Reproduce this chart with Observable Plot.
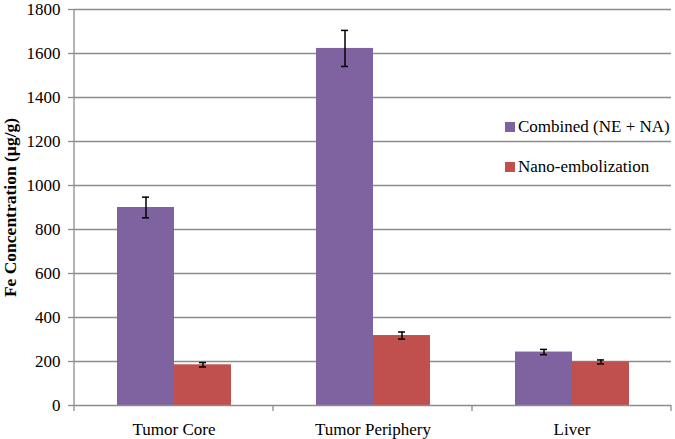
<!DOCTYPE html>
<html><head><meta charset="utf-8">
<script src="https://cdn.jsdelivr.net/npm/d3@7"></script>
<script src="https://cdn.jsdelivr.net/npm/@observablehq/plot@0.6"></script>
<style>
body{margin:0;background:#fff;}
#wrap{position:relative;width:675px;height:439px;overflow:hidden;}
#wrap svg, #wrap svg text{font-family:"Liberation Serif",serif !important;}
#wrap svg g[aria-label="y-axis label"] text{font-weight:bold;font-size:17.5px;}
.legend{position:absolute;left:505px;font-family:"Liberation Serif",serif;font-size:17px;color:#000;display:flex;align-items:center;white-space:nowrap;}
.legend span.sw{display:inline-block;width:10px;height:10px;margin-right:3px;}
</style></head><body><div id="wrap"></div>
<script>
const categories = ["Tumor Core", "Tumor Periphery", "Liver"];
const series = ["Combined (NE + NA)", "Nano-embolization"];
const combined = [900, 1623, 243];
const combinedErr = [47, 82, 12];
const nano = [185, 318, 198];
const nanoErr = [10, 16, 9];
const yTicks = [0, 200, 400, 600, 800, 1000, 1200, 1400, 1600, 1800];
const colors = ["#7F63A1", "#C0504D"];

const data = categories.flatMap((c, i) => [
  {category: c, series: series[0], value: combined[i], err: combinedErr[i]},
  {category: c, series: series[1], value: nano[i], err: nanoErr[i]}
]);

const gridColor = "#8c8c8c";

const plot = Plot.plot({
  width: 675, height: 439,
  marginLeft: 74, marginRight: 4, marginTop: 9, marginBottom: 34,
  style: {fontSize: "17px", color: "#000", background: "#fff", overflow: "visible"},
  fx: {domain: categories, padding: 0, label: null},
  x: {domain: series, paddingInner: 0, paddingOuter: 0.745, axis: null},
  y: {domain: [0, 1800]},
  color: {domain: series, range: colors},
  marks: [
    Plot.gridY(yTicks.filter(t => t > 0), {stroke: gridColor, strokeOpacity: 1, strokeWidth: 1.3}),
    Plot.axisY(yTicks, {tickSize: 6, tickPadding: 8, stroke: gridColor, strokeWidth: 1.3, tickFormat: d => String(d),
      label: "Fe Concentration (µg/g)", labelAnchor: "center", labelArrow: "none", labelOffset: 71}),
    Plot.axisFx({anchor: "bottom", tickSize: 0, tickPadding: 17, label: null}),
    Plot.barY(data, {fx: "category", x: "series", y: "value", fill: "series"}),
    Plot.ruleY([0], {stroke: gridColor, strokeWidth: 1.3}),
    Plot.ruleX(data, {fx: "category", x: "series", y1: d => d.value - d.err, y2: d => d.value + d.err, stroke: "#000", strokeWidth: 1.5}),
    Plot.tickY(data, {fx: "category", x: "series", y: d => d.value + d.err, stroke: "#000", strokeWidth: 1.5, inset: 25}),
    Plot.tickY(data, {fx: "category", x: "series", y: d => d.value - d.err, stroke: "#000", strokeWidth: 1.5, inset: 25})
  ]
});

// axis line on the left and category boundary ticks at the bottom, placed with the plot's own scales
const fx = plot.scale("fx"), y = plot.scale("y");
const svg = d3.select(plot);
const y0 = y.apply(0), yTop = y.apply(1800);
const x0 = fx.range[0];
svg.append("line").attr("x1", x0).attr("x2", x0).attr("y1", yTop).attr("y2", y0)
  .attr("stroke", gridColor).attr("stroke-width", 1.3);
const bounds = [fx.apply(categories[0])].concat(categories.map(c => fx.apply(c) + fx.bandwidth));
svg.append("g").selectAll("line").data(bounds).join("line")
  .attr("x1", d => d).attr("x2", d => d).attr("y1", y0).attr("y2", y0 + 6)
  .attr("stroke", gridColor).attr("stroke-width", 1.3);

const wrap = document.getElementById("wrap");
wrap.appendChild(plot);
// legend
const legendY = [128, 168];
series.forEach((s, i) => {
  const div = document.createElement("div");
  div.className = "legend";
  div.style.top = (legendY[i] - 11) + "px";
  div.innerHTML = `<span class="sw" style="background:${colors[i]}"></span>${s}`;
  wrap.appendChild(div);
});
</script>
</body></html>
